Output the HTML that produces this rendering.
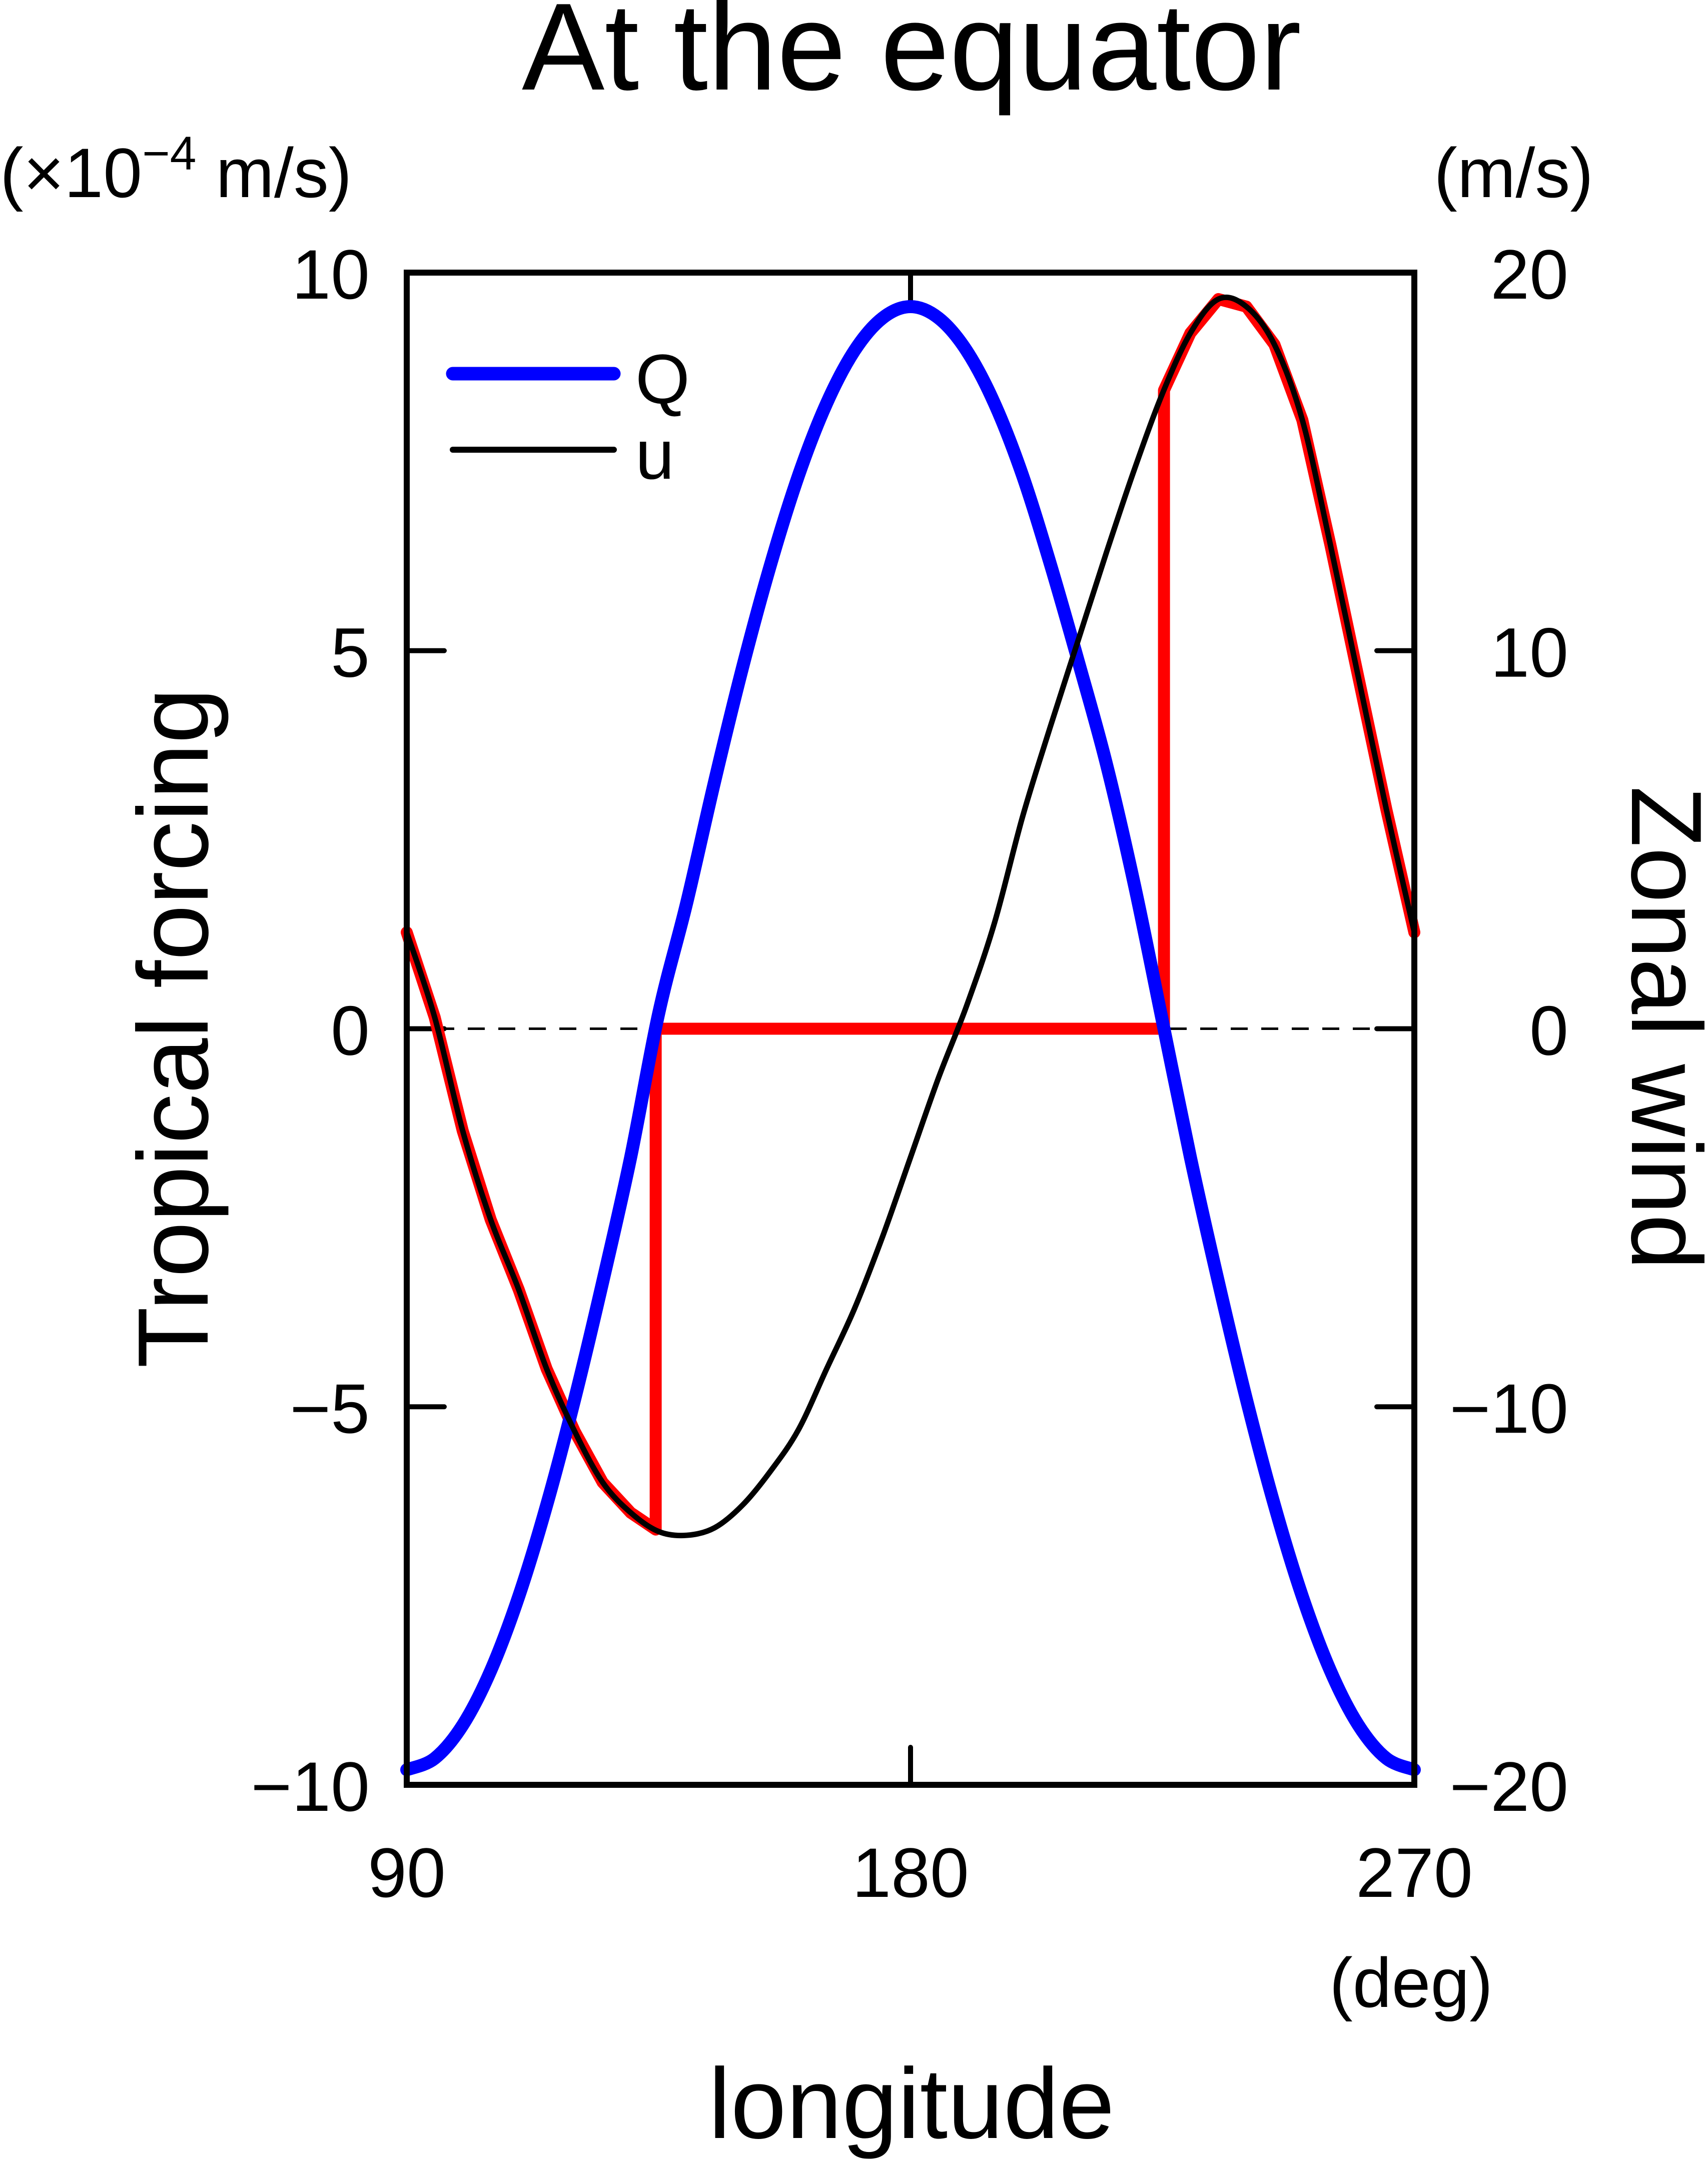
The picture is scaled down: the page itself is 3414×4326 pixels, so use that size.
<!DOCTYPE html>
<html><head><meta charset="utf-8"><style>
html,body{margin:0;padding:0;background:#fff;}
svg{display:block;}
text{font-family:"Liberation Sans",sans-serif;fill:#000;}
</style></head><body>
<svg id="chart" width="3414" height="4326" viewBox="0 0 3414 4326" xmlns="http://www.w3.org/2000/svg">
<text x="1822" y="179" font-size="248" text-anchor="middle">At the equator</text>
<text x="0" y="394" font-size="140">(×10<tspan font-size="95" dy="-55">−4</tspan><tspan dy="55"> m/s)</tspan></text>
<text x="3185" y="394" font-size="140" text-anchor="end">(m/s)</text>
<text x="2984" y="4012" font-size="140" text-anchor="end">(deg)</text>
<text x="1822" y="4274" font-size="200" text-anchor="middle">longitude</text>
<text transform="translate(415,2055) rotate(-90)" font-size="200" text-anchor="middle">Tropical forcing</text>
<text transform="translate(3262,2055) rotate(90)" font-size="200" text-anchor="middle">Zonal wind</text>
<g id="ticks"></g>
<g id="series"></g>
<rect x="813" y="545" width="2014" height="3023" fill="none" stroke="#000" stroke-width="12"/>
<g>
<line x1="905" y1="747" x2="1227" y2="747" stroke="#0000ff" stroke-width="27" stroke-linecap="round"/>
<text x="1270" y="806" font-size="140">Q</text>
<line x1="905" y1="899" x2="1227" y2="899" stroke="#000" stroke-width="12" stroke-linecap="round"/>
<text x="1270" y="957" font-size="140">u</text>
</g>
</svg>
<script>
const longitudes = [90,95,100,105,110,115,120,125,130,135,140,145,150,155,160,165,170,175,180,185,190,195,200,205,210,215,220,225,230,235,240,245,250,255,260,265,270];
const forcingQ = [-9.8,-9.65,-9.21,-8.49,-7.51,-6.3,-4.9,-3.35,-1.7,0.2,1.66,3.27,4.78,6.14,7.32,8.27,8.97,9.4,9.55,9.4,8.97,8.27,7.32,6.14,4.85,3.5,1.9,0.1,-1.7,-3.35,-4.9,-6.3,-7.51,-8.49,-9.21,-9.65,-9.8];
const windU = [2.55,0.3,-2.7,-5.05,-6.9,-9.0,-10.65,-12.0,-12.8,-13.3,-13.4,-13.2,-12.6,-11.7,-10.6,-9.0,-7.4,-5.5,-3.4,-1.3,0.6,2.8,5.6,8.0,10.3,12.6,14.8,16.8,18.4,19.3,19.1,18.1,16.1,12.8,9.3,5.8,2.55];
const xTicks = [90,180,270];
const leftTicks = [10,5,0,-5,-10];
const rightTicks = [20,10,0,-10,-20];

const NS = "http://www.w3.org/2000/svg";
const X0=813, X1=2827, YT=545, YB=3568;
function xs(d){return X0+(d-90)/180*(X1-X0);}
function yq(v){return YB-(v+10)/20*(YB-YT);}
function yu(v){return YB-(v+20)/40*(YB-YT);}
function mk(tag, attrs, parent){const e=document.createElementNS(NS,tag);for(const k in attrs)e.setAttribute(k,attrs[k]);parent.appendChild(e);return e;}
function fmt(v){return v<0?"\u2212"+Math.abs(v):String(v);}

const tg=document.getElementById("ticks");
leftTicks.forEach(v=>{
  const y=yq(v);
  const l=mk("line",{x1:X0,y1:y,x2:X0+75,y2:y,stroke:"#000","stroke-width":10,"stroke-linecap":"round"},tg);
  
  
  const t=mk("text",{x:739,y:y+52,"font-size":140,"text-anchor":"end"},tg);
  t.textContent=fmt(v);
  
  
});
rightTicks.forEach(v=>{
  const y=yu(v);
  const l=mk("line",{x1:X1,y1:y,x2:X1-75,y2:y,stroke:"#000","stroke-width":10,"stroke-linecap":"round"},tg);
  
  
  const t=mk("text",{x:3135,y:y+52,"font-size":140,"text-anchor":"end"},tg);
  t.textContent=fmt(v);
  
  
});
xTicks.forEach(d=>{
  const x=xs(d);
  if(d>90&&d<270){
    const a=mk("line",{x1:x,y1:YB,x2:x,y2:YB-75,stroke:"#000","stroke-width":10,"stroke-linecap":"round"},tg);
    
    
    const b=mk("line",{x1:x,y1:YT,x2:x,y2:YT+75,stroke:"#000","stroke-width":10,"stroke-linecap":"round"},tg);
    
    
  }
  const t=mk("text",{x:x,y:3792,"font-size":140,"text-anchor":"middle"},tg);
  t.textContent=String(d);
  
  
});

const sg=document.getElementById("series");
const zl=mk("line",{x1:X0,y1:yq(0),x2:X1,y2:yq(0),stroke:"#000","stroke-width":5,"stroke-dasharray":"34 27"},sg);



// red: u where Q<0, else 0, with vertical jumps at zero crossings of Q
let rd="";
function addPt(x,y){rd+=(rd?" L":"M")+x.toFixed(1)+" "+y.toFixed(1);}
for(let i=0;i<longitudes.length;i++){
  if(i>0){
    const q0=forcingQ[i-1], q1=forcingQ[i];
    if((q0<0)!==(q1<0)){
      const f=q0/(q0-q1);
      const d=longitudes[i-1]+f*(longitudes[i]-longitudes[i-1]);
      const u=windU[i-1]+f*(windU[i]-windU[i-1]);
      if(q0<0){addPt(xs(d),yu(u));addPt(xs(d),yu(0));}
      else{addPt(xs(d),yu(0));addPt(xs(d),yu(u));}
    }
  }
  addPt(xs(longitudes[i]), yu(forcingQ[i]<0?windU[i]:0));
}
const red=mk("path",{d:rd,fill:"none",stroke:"#ff0000","stroke-width":24,"stroke-linejoin":"round","stroke-linecap":"round"},sg);



function smoothPath(vals, yf){
  const p=longitudes.map((d,i)=>[xs(d),yf(vals[i])]);
  let s="M"+p[0][0].toFixed(1)+" "+p[0][1].toFixed(1);
  for(let i=0;i<p.length-1;i++){
    const a=p[Math.max(0,i-1)],b=p[i],c=p[i+1],e=p[Math.min(p.length-1,i+2)];
    const c1=[b[0]+(c[0]-a[0])/6,b[1]+(c[1]-a[1])/6];
    const c2=[c[0]-(e[0]-b[0])/6,c[1]-(e[1]-b[1])/6];
    s+=" C"+c1[0].toFixed(1)+" "+c1[1].toFixed(1)+" "+c2[0].toFixed(1)+" "+c2[1].toFixed(1)+" "+c[0].toFixed(1)+" "+c[1].toFixed(1);
  }
  return s;
}
const ql=mk("path",{d:smoothPath(forcingQ,yq),fill:"none",stroke:"#0000ff","stroke-width":26,"stroke-linecap":"round"},sg);


const ul=mk("path",{d:smoothPath(windU,yu),fill:"none",stroke:"#000","stroke-width":11,"stroke-linecap":"round"},sg);


</script>
</body></html>
